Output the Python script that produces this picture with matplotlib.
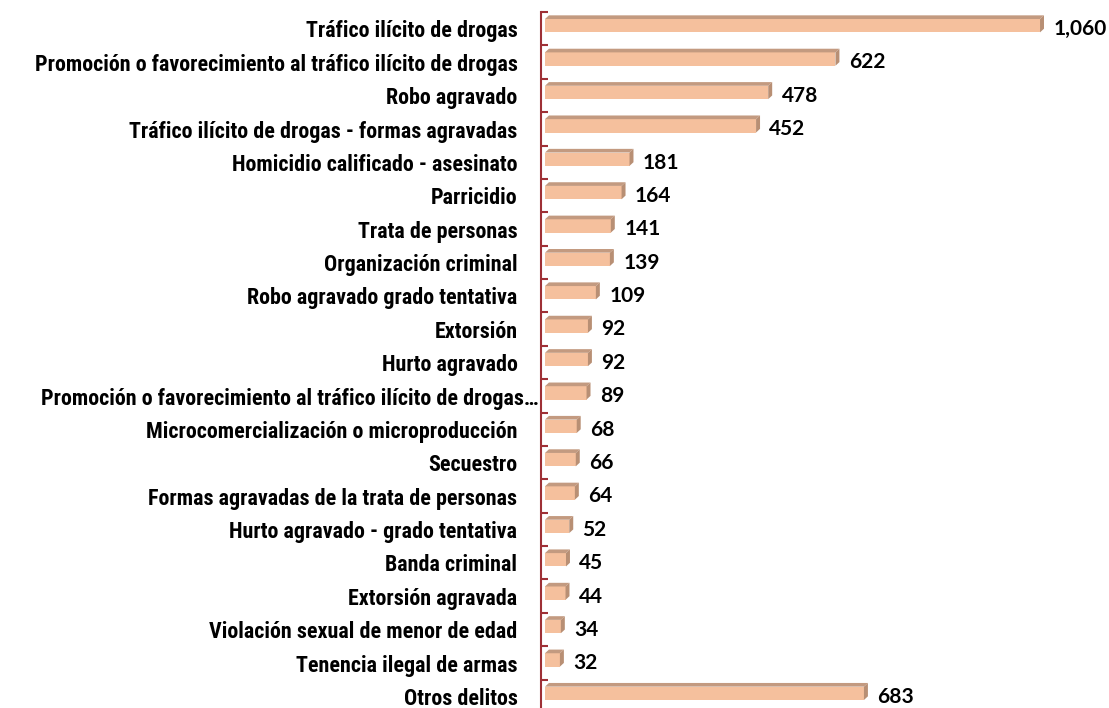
import matplotlib
matplotlib.use("Agg")
import matplotlib.pyplot as plt
from matplotlib import font_manager
from matplotlib.patches import Polygon
from matplotlib.ticker import FixedLocator
import matplotlib.transforms as mtransforms

# Datos
delitos = [
    "Tráfico ilícito de drogas",
    "Promoción o favorecimiento al tráfico ilícito de drogas",
    "Robo agravado",
    "Tráfico ilícito de drogas - formas agravadas",
    "Homicidio calificado - asesinato",
    "Parricidio",
    "Trata de personas",
    "Organización criminal",
    "Robo agravado grado tentativa",
    "Extorsión",
    "Hurto agravado",
    "Promoción o favorecimiento al tráfico ilícito de drogas…",
    "Microcomercialización o microproducción",
    "Secuestro",
    "Formas agravadas de la trata de personas",
    "Hurto agravado - grado tentativa",
    "Banda criminal",
    "Extorsión agravada",
    "Violación sexual de menor de edad",
    "Tenencia ilegal de armas",
    "Otros delitos",
]
casos = [1060, 622, 478, 452, 181, 164, 141, 139, 109, 92, 92, 89, 68, 66, 64,
         52, 45, 44, 34, 32, 683]

# Colores
FRENTE = "#f5c09d"
TAPA = "#c39a80"
LADO = "#b88f74"
EJE = "#9e3036"

# fuente estrecha para las etiquetas (tipo Arial Narrow)
instaladas = {f.name for f in font_manager.fontManager.ttflist}
fuente_cat = "Liberation Sans"
for nombre in ["Liberation Sans Narrow", "Arial Narrow", "Roboto Condensed",
               "DejaVu Sans Condensed"]:
    if nombre in instaladas:
        fuente_cat = nombre
        break
fuente_num = "Lato" if "Lato" in instaladas else "DejaVu Sans"

fig = plt.figure(figsize=(11.09, 7.08), dpi=100)
ax = fig.add_axes([541 / 1109, -5 / 708, 568 / 1109, 701 / 708])
renderer = fig.canvas.get_renderer()

# ajustar tamaño para que la etiqueta más larga mida ~480 px
prueba = fig.text(0, 0, delitos[1], fontsize=10, fontweight="bold", family=fuente_cat)
ancho = prueba.get_window_extent(renderer).width
prueba.remove()
tam_cat = min(10 * 482 / ancho, 16.5)

n = len(casos)
pos = list(range(n))
alto = 0.40
dx, dy = 8.5, 0.11
sub = 0.09

ax.barh([p - sub for p in pos], casos, height=alto, color=FRENTE, zorder=2)
for p, v in zip(pos, casos):
    y0 = p - sub - alto / 2
    y1 = p - sub + alto / 2
    ax.add_patch(Polygon([(0, y0), (v, y0), (v + dx, y0 - dy), (dx, y0 - dy)],
                         closed=True, facecolor=TAPA, edgecolor="none", zorder=2))
    ax.add_patch(Polygon([(v, y0), (v + dx, y0 - dy), (v + dx, y1 - dy), (v, y1)],
                         closed=True, facecolor=LADO, edgecolor="none", zorder=2))
    ax.text(v + dx + 20, p - sub + 0.1, f"{v:,}", ha="left", va="center",
            fontsize=15, fontweight="bold", family=fuente_num, color="black")

ax.set_xlim(-8.5, 1207.7)
ax.set_ylim(n - 0.5, -0.5)

# etiquetas de categoria
trans = mtransforms.blended_transform_factory(ax.transAxes, ax.transData)
for p, nom in zip(pos, delitos):
    off = -1.5 if nom.endswith("…") else -17
    ax.annotate(nom, xy=(0, p + 0.08), xycoords=trans, xytext=(off, 0),
                textcoords="offset points", ha="right", va="center",
                fontsize=tam_cat, fontweight="bold", family=fuente_cat)

ax.set_yticks([])
ax.yaxis.set_minor_locator(FixedLocator([p + 0.5 for p in [-1] + pos]))
ax.tick_params(axis="y", which="minor", direction="in", length=5, width=1.5,
               color=EJE)
ax.set_xticks([])
for s in ["top", "right", "bottom"]:
    ax.spines[s].set_visible(False)
ax.spines["left"].set_color(EJE)
ax.spines["left"].set_linewidth(1.5)
ax.patch.set_alpha(0)

fig.savefig("out.png", dpi=100, facecolor="white")
